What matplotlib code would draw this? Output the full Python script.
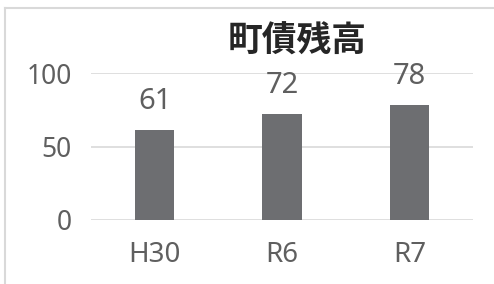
import matplotlib
matplotlib.use("Agg")
import matplotlib.pyplot as plt
from matplotlib.lines import Line2D

categories = ["H30", "R6", "R7"]
values = [61, 72, 78]
yticks = [0, 50, 100]
title = "町債残高"

plt.rcParams['font.family'] = ['Noto Sans', 'Noto Sans CJK JP', 'DejaVu Sans']

fig = plt.figure(figsize=(4.94, 2.84), dpi=100)
ax = fig.add_axes([91/494, 1-220/284, (473-91)/494, (220-73)/284])

x = list(range(len(categories)))
bars = ax.bar(x, values, width=0.31, color="#6d6e71", zorder=3)
ax.set_xlim(-0.5, len(categories) - 0.5)
ax.set_ylim(0, 100)
ax.set_yticks(yticks)
ax.set_xticks(x)
ax.set_xticklabels(categories)
ax.grid(axis="y", color="#d9d9d9", linewidth=1.2, zorder=0)
ax.set_axisbelow(True)
for s in ax.spines.values():
    s.set_visible(False)
ax.tick_params(axis="both", length=0, colors="#5f5f5f", labelsize=19)
ax.tick_params(axis="x", labelsize=20)
ax.tick_params(axis="y", pad=14)
ax.tick_params(axis="x", pad=15)
for xi, v in zip(x, values):
    ax.annotate(str(v), (xi, v), xytext=(0, 10), textcoords="offset points",
                ha="center", va="bottom", fontsize=21, color="#5f5f5f")

fig.text(297/494, 1-41/284, title, ha="center", va="center", fontsize=25,
         fontweight="bold", color="#262626", family=["Noto Sans CJK JP"])

fig.add_artist(Line2D([5/494, 1], [1-8/284, 1-8/284], color="#d9d9d9", linewidth=1.5, transform=fig.transFigure))
fig.add_artist(Line2D([5/494, 5/494], [0, 1-8/284], color="#d9d9d9", linewidth=1.5, transform=fig.transFigure))

fig.savefig("out.png", dpi=100)
